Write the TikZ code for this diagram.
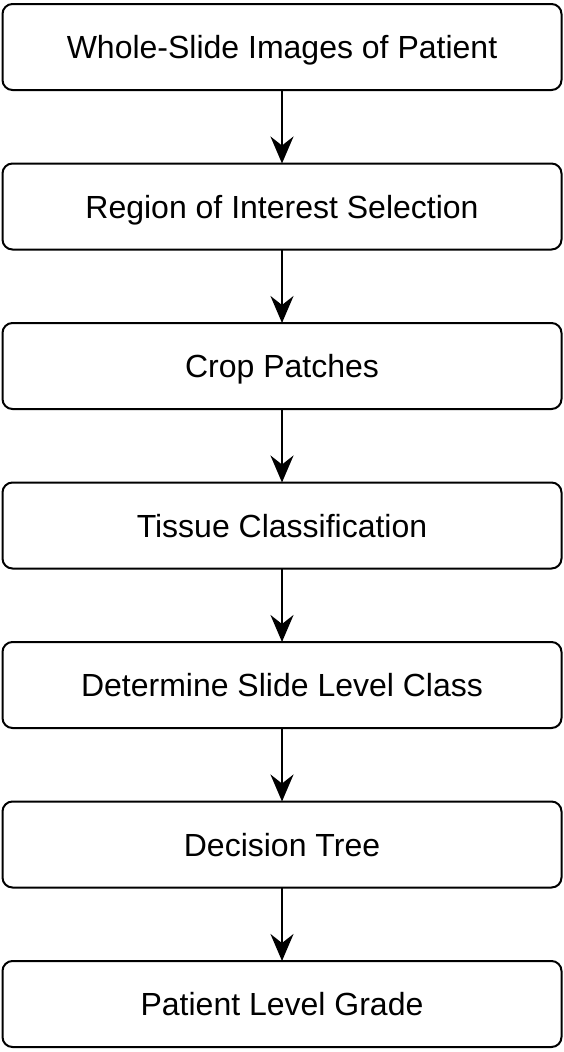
\documentclass[tikz,border=0pt]{standalone}
\usepackage{fontspec}
\setmainfont{Liberation Sans}
\usetikzlibrary{positioning,arrows.meta}
\begin{document}
\begin{tikzpicture}[x=1pt,y=-1pt,
		node distance=73.5pt,
		stepbox/.style={draw=black, line width=2pt, rounded corners=10pt, minimum width=559pt, minimum height=86pt, outer sep=0pt, text height=23pt, text depth=0pt, font=\fontsize{32}{38}\selectfont},
		flow/.style={draw=black, line width=2pt, -{Stealth[length=27pt, width=23pt, inset=9pt]}}]
		\useasboundingbox (0,0) rectangle (564,1052);
		\node [stepbox] (wsi) at (282,47) {Whole-Slide Images of Patient};
		\node [stepbox, below=of wsi] (roi) {Region of Interest Selection};
		\node [stepbox, below=of roi] (crop) {Crop Patches};
		\node [stepbox, below=of crop] (tissue) {Tissue Classification};
		\node [stepbox, below=of tissue] (slide) {Determine Slide Level Class};
		\node [stepbox, below=of slide] (tree) {Decision Tree};
		\node [stepbox, below=of tree] (grade) {Patient Level Grade};
		
		\draw [flow] (wsi) -- (roi);
		\draw [flow] (roi) -- (crop);
		\draw [flow] (crop) -- (tissue);
		\draw [flow] (tissue) -- (slide);
		\draw [flow] (slide) -- (tree);
		\draw [flow] (tree) -- (grade);
	\end{tikzpicture}
\end{document}
